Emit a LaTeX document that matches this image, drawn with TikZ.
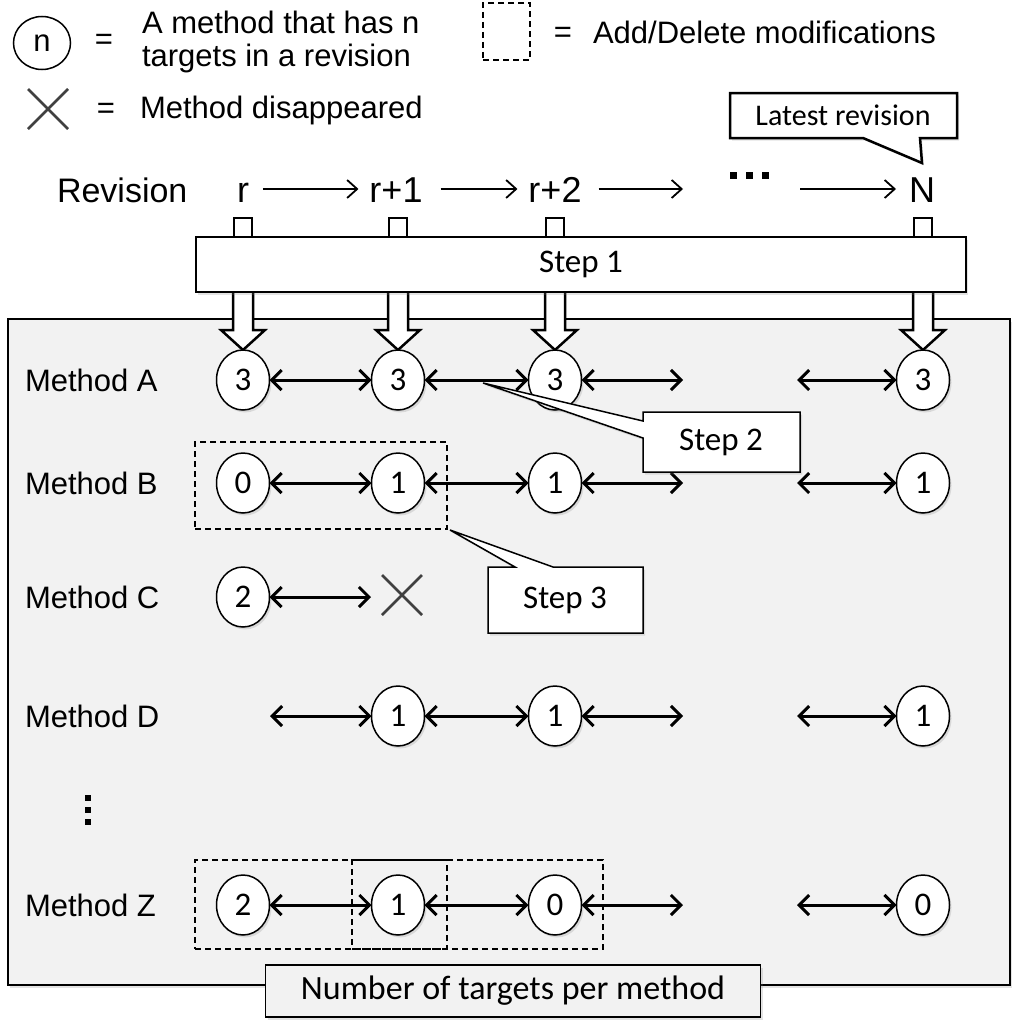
\documentclass[tikz,border=0pt]{standalone}
\usepackage{fontspec}
\setmainfont{Liberation Sans}
\newfontfamily\calib{Carlito}
\usetikzlibrary{arrows.meta,shapes.geometric,shapes.misc,shadows}
\definecolor{panelgray}{HTML}{F2F2F2}
\definecolor{xgray}{HTML}{404040}
\begin{document}
\begin{tikzpicture}[x=1pt,y=-1pt,
  every node/.style={inner sep=0pt, outer sep=0pt},
  shad/.style={drop shadow={shadow xshift=2pt, shadow yshift=-2.5pt, opacity=0.22}},
  cnode/.style={ellipse, draw, line width=1.5pt, fill=white, minimum width=53pt, minimum height=60pt, font=\calib\fontsize{33}{33}\selectfont, shad},
  lab/.style={anchor=west, font=\fontsize{31}{36}\selectfont},
  eqs/.style={font=\fontsize{31}{36}\selectfont},
  revtext/.style={anchor=base, font=\fontsize{36}{36}\selectfont, text height=26pt, text depth=0pt},
  dbl/.style={line width=3pt, {Straight Barb[length=10pt,width=20pt]}-{Straight Barb[length=10pt,width=20pt]}},
  revarrow/.style={line width=1.8pt, -{Straight Barb[length=10pt,width=18pt]}},
  modbox/.style={draw, line width=1.6pt, dash pattern=on 6pt off 4pt},
  callout/.style={draw, line width=1.5pt, fill=white, line join=miter, shad},
  xmark/.style={cross out, draw=xgray, line width=2.5pt, minimum width=40pt, minimum height=40pt},
  stubbox/.style={draw, line width=2.5pt, fill=white, minimum width=18pt, minimum height=22pt},
  blockarrow/.style={draw, line width=2.5pt, fill=white, line join=miter},
  stepfont/.style={font=\calib\fontsize{33}{33}\selectfont},
]
\useasboundingbox (0,0) rectangle (1014,1025);

% ---------- legend ----------
\node[ellipse, draw, line width=1.5pt, minimum width=57pt, minimum height=53pt, font=\fontsize{31}{31}\selectfont] (legc) at (42,43) {n};
\node[eqs] (legeqa) at (104,42) {=};
\node[lab] (legta) at (142,22) {A method that has n};
\node[lab] (legtb) at (142,58) {targets in a revision};
\node[xmark] (legx) at (48,109) {};
\node[eqs] (legeqb) at (106,111) {=};
\node[lab] (legtc) at (140,110) {Method disappeared};
\node[modbox, minimum width=47pt, minimum height=57pt] (legbox) at (506.5,31.5) {};
\node[eqs] (legeqc) at (563,35) {=};
\node[lab] (legtd) at (593,32) {Add/Delete modifications};

% ---------- latest revision callout ----------
\draw[callout, line width=2.5pt] (730,93) -- (957,93) -- (957,138) -- (920,138) -- (922,163) -- (863,138) -- (730,138) -- cycle;
\node[font=\calib\fontsize{30}{30}\selectfont] (latest) at (843,115) {Latest revision};

% ---------- revision row ----------
\node[anchor=base west, font=\fontsize{34}{34}\selectfont] (revlab) at (57,202) {Revision};
\node[revtext] (rva) at (243,202) {r};
\node[revtext] (rvb) at (396,202) {r+1};
\node[revtext] (rvc) at (555,202) {r+2};
\node[revtext] (rvn) at (922,202) {N};
\foreach \dx in {733,749,765} \fill (\dx-3.5,172) rectangle ++(7,7);
\coordinate (dotsl) at (683,189);
\coordinate (dotsr) at (800,189);
\draw[revarrow] ([xshift=14pt]rva.east) -- ([xshift=-11pt]rvb.west);
\draw[revarrow] ([xshift=18pt]rvb.east) -- ([xshift=-11pt]rvc.west);
\draw[revarrow] ([xshift=17pt]rvc.east) -- (dotsl);
\draw[revarrow] (dotsr) -- ([xshift=-13pt]rvn.west);

% ---------- panel ----------
\node[draw, line width=1.5pt, fill=panelgray, minimum width=1002pt, minimum height=666pt, shad] (panel) at (509,652) {};

% ---------- block arrows, stubs, step 1 ----------
\foreach \cx in {243,398,555,923} {
  \draw[blockarrow] (\cx-10,285) -- (\cx-10,330) -- (\cx-22,330) -- (\cx,350) -- (\cx+22,330) -- (\cx+10,330) -- (\cx+10,285);
}
\node[stubbox] (sta) at (243,229) {};
\node[stubbox] (stb) at (398,229) {};
\node[stubbox] (stc) at (555,229) {};
\node[stubbox] (stn) at (923,229) {};
\node[draw, line width=1.5pt, fill=white, minimum width=770pt, minimum height=55pt, stepfont, shad] (step1) at (581,264.5) {Step 1};

% ---------- method labels ----------
\node[lab] (mA) at (25,380) {Method A};
\node[lab] (mB) at (25,483) {Method B};
\node[lab] (mC) at (25,597) {Method C};
\node[lab] (mD) at (25,716) {Method D};
\node[lab] (mZ) at (25,905) {Method Z};
\foreach \dy in {798,810,822} \fill (85,\dy-3) rectangle ++(6,6);

% ---------- modification boxes ----------
\node[modbox, minimum width=252pt, minimum height=87pt] (modb) at (321,485.5) {};
\node[modbox, minimum width=252pt, minimum height=89pt] (modza) at (321,904.5) {};
\node[modbox, minimum width=251pt, minimum height=89pt] (modzb) at (477.5,904.5) {};

% ---------- circles ----------
\node[cnode] (cAa) at (243,380) {3};
\node[cnode] (cAb) at (398,380) {3};
\node[cnode] (cAc) at (555,380) {3};
\node[cnode] (cAd) at (923,380) {3};
\node[cnode] (cBa) at (243,483) {0};
\node[cnode] (cBb) at (398,483) {1};
\node[cnode] (cBc) at (555,483) {1};
\node[cnode] (cBd) at (923,483) {1};
\node[cnode] (cCa) at (243,597) {2};
\node[xmark] (xC) at (402,595) {};
\node[cnode] (cDb) at (398,716) {1};
\node[cnode] (cDc) at (555,716) {1};
\node[cnode] (cDd) at (923,716) {1};
\node[cnode] (cZa) at (243,905) {2};
\node[cnode] (cZb) at (398,905) {1};
\node[cnode] (cZc) at (555,905) {0};
\node[cnode] (cZd) at (923,905) {0};

% free ends
\coordinate (eAr) at (683,380); \coordinate (eAl) at (797,380);
\coordinate (eBr) at (683,483); \coordinate (eBl) at (797,483);
\coordinate (eCr) at (371,597);
\coordinate (eDs) at (270,716);
\coordinate (eDr) at (683,716); \coordinate (eDl) at (797,716);
\coordinate (eZr) at (683,905); \coordinate (eZl) at (797,905);

% ---------- connectors ----------
\draw[dbl] (cAa) -- (cAb);
\draw[dbl] (cAb) -- (cAc);
\draw[dbl] (cAc) -- (eAr);
\draw[dbl] (eAl) -- (cAd);
\draw[dbl] (cBa) -- (cBb);
\draw[dbl] (cBb) -- (cBc);
\draw[dbl] (cBc) -- (eBr);
\draw[dbl] (eBl) -- (cBd);
\draw[dbl] (cCa) -- (eCr);
\draw[dbl] (eDs) -- (cDb);
\draw[dbl] (cDb) -- (cDc);
\draw[dbl] (cDc) -- (eDr);
\draw[dbl] (eDl) -- (cDd);
\draw[dbl] (cZa) -- (cZb);
\draw[dbl] (cZb) -- (cZc);
\draw[dbl] (cZc) -- (eZr);
\draw[dbl] (eZl) -- (cZd);

% ---------- step 2 & step 3 callouts ----------
\draw[callout] (643,412) -- (800,412) -- (800,472) -- (643,472) -- (643,438) -- (483,383) -- (643,421) -- cycle;
\node[stepfont] (step2) at (721,442) {Step 2};
\draw[callout] (488,567) -- (515,567) -- (450,530) -- (553,567) -- (643,567) -- (643,633) -- (488,633) -- cycle;
\node[stepfont] (step3) at (565,600) {Step 3};

% ---------- bottom label ----------
\node[draw, line width=1.5pt, fill=panelgray, minimum width=495pt, minimum height=52pt, font=\calib\fontsize{34}{34}\selectfont, shad] (nlabel) at (513,991) {Number of targets per method};
\end{tikzpicture}
\end{document}
